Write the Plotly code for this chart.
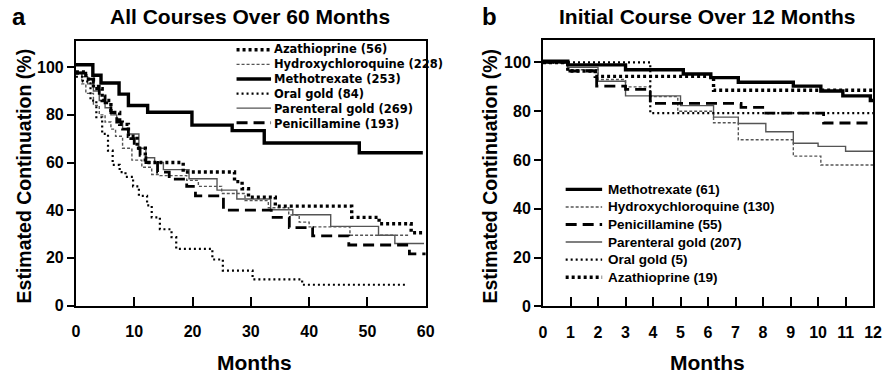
import plotly.graph_objects as go

W, H = 889, 376
FONT = "Liberation Sans, Arial, sans-serif"

# ---------------- Panel a: All courses over 60 months ----------------
a_names = ["Azathioprine", "Hydroxychloroquine", "Methotrexate", "Oral gold",
           "Parenteral gold", "Penicillamine"]
a_counts = [56, 228, 253, 84, 269, 193]

a_aza_t = [0, 1.7, 3, 4.5, 6, 7.5, 9, 10.5, 11.9, 18.4, 27.2, 28.5, 29.6, 34.2, 47.3, 52, 57.5, 59.5]
a_aza_v = [98, 95, 91, 86, 81, 76, 71, 66, 60, 56, 52, 49, 45.5, 41.7, 37, 34.3, 30.5, 30.5]
a_hcq_t = [0, 1, 1.7, 3, 4, 5, 6, 6.8, 8, 9.6, 11.3, 13, 14.4, 19, 21, 25, 29, 33, 36.5, 38.3, 40, 47, 57]
a_hcq_v = [97, 93, 89, 84, 80, 77, 74, 71, 66, 61, 58, 55, 54.5, 52.5, 50, 47, 44, 41, 38, 35, 33, 29.5, 29.5]
a_mtx_t = [0, 2.9, 4.3, 7.4, 9.0, 12.3, 19.9, 26.8, 32.3, 48.6, 59.5]
a_mtx_v = [101, 96.6, 93.4, 88.7, 83.9, 81.1, 75.7, 73.4, 68.2, 64.1, 64.1]
a_oral_t = [0, 1.2, 2.5, 3.5, 4.5, 5.5, 6.3, 7.5, 8.5, 9.8, 10.8, 12.2, 13, 14.4, 16.4, 17.2, 23.4, 25.2, 30.3, 38.8, 56.5]
a_oral_v = [96, 94, 86, 79, 72, 65, 59, 56, 54, 50, 46, 42, 37, 32, 28.7, 23.8, 19.3, 14.6, 11, 8.7, 8.7]
a_par_t = [0, 1, 2, 3, 4, 5, 6, 7, 8, 9, 10.8, 12, 13.5, 15, 19.4, 24.2, 27.6, 33.4, 37.2, 43.7, 51.9, 54.7, 59.7]
a_par_v = [98, 96, 93, 90, 86, 83, 80, 77, 74, 72, 66, 62, 60, 57, 53.2, 48.4, 44.7, 40.2, 38.1, 33.2, 29.5, 26, 26]
a_pen_t = [0, 1.7, 3, 4, 5, 6, 7, 8, 9, 10, 11, 12, 14, 16, 19, 20.5, 25.3, 33.5, 36.6, 40.6, 46.8, 57.2, 60]
a_pen_v = [97.5, 95, 92, 88, 85, 81, 77, 74, 70, 66, 63, 60, 56, 53, 50, 46, 40, 37, 32.7, 29.2, 25.4, 21.7, 21.7]

# ---------------- Panel b: Initial course over 12 months ----------------
b_names = ["Methotrexate", "Hydroxychloroquine", "Penicillamine", "Parenteral gold",
           "Oral gold", "Azathioprine"]
b_counts = [61, 130, 55, 207, 5, 19]

b_mtx_t = [0, 0.9, 3, 5.1, 6.1, 7.1, 9.1, 10.1, 10.9, 11.9, 12]
b_mtx_v = [100.5, 99, 97, 95.3, 93.8, 91.9, 90.3, 88.3, 86.3, 84.4, 84.4]
b_hcq_t = [0, 0.9, 2, 3, 3.9, 4.9, 6.2, 7.1, 9.1, 10.1, 12]
b_hcq_v = [100, 97, 93, 90, 86, 80, 75.3, 68.3, 61.6, 58, 58]
b_pen_t = [0, 0.9, 1.95, 3, 3.9, 7.2, 8.1, 10.2, 12]
b_pen_v = [100, 96.5, 90.3, 89, 83.2, 81.6, 79.2, 75.2, 75.2]
b_par_t = [0, 0.9, 2, 3, 5, 6.2, 7.1, 8.1, 9.1, 10, 11, 12]
b_par_v = [100, 98, 92.3, 86.3, 82.3, 77.6, 75, 71.6, 66.9, 65.6, 63.6, 63.6]
b_oral_t = [0, 3.9, 12]
b_oral_v = [100, 79.2, 79.2]
b_aza_t = [0, 0.9, 1.9, 6.2, 12]
b_aza_v = [100, 96.5, 94.3, 88.6, 88.6]

a_ticks_x = [0, 10, 20, 30, 40, 50, 60]
b_ticks_x = list(range(0, 13))
y_ticks = [0, 20, 40, 60, 80, 100]

# line styles per drug
STYLE = {
    "Azathioprine": dict(color="black", width=3.4, dash="3px,3px"),
    "Hydroxychloroquine": dict(color="#555555", width=1.4, dash="3px,2px"),
    "Methotrexate": dict(color="black", width=3.4, dash="solid"),
    "Oral gold": dict(color="black", width=2.2, dash="2px,3px"),
    "Parenteral gold": dict(color="#555555", width=1.4, dash="solid"),
    "Penicillamine": dict(color="black", width=2.8, dash="11px,6px"),
}

fig = go.Figure()

a_series = {
    "Azathioprine": (a_aza_t, a_aza_v),
    "Hydroxychloroquine": (a_hcq_t, a_hcq_v),
    "Methotrexate": (a_mtx_t, a_mtx_v),
    "Oral gold": (a_oral_t, a_oral_v),
    "Parenteral gold": (a_par_t, a_par_v),
    "Penicillamine": (a_pen_t, a_pen_v),
}
b_series = {
    "Methotrexate": (b_mtx_t, b_mtx_v),
    "Hydroxychloroquine": (b_hcq_t, b_hcq_v),
    "Penicillamine": (b_pen_t, b_pen_v),
    "Parenteral gold": (b_par_t, b_par_v),
    "Oral gold": (b_oral_t, b_oral_v),
    "Azathioprine": (b_aza_t, b_aza_v),
}

# draw thinner lines first so thick lines sit on top
order = ["Parenteral gold", "Hydroxychloroquine", "Oral gold", "Penicillamine", "Azathioprine", "Methotrexate"]
for nm in order:
    t, v = a_series[nm]
    fig.add_trace(go.Scatter(x=t, y=v, mode="lines", line_shape="hv", line=STYLE[nm],
                             name=nm, showlegend=False, xaxis="x", yaxis="y",
                             hoverinfo="skip"))
for nm in order:
    t, v = b_series[nm]
    fig.add_trace(go.Scatter(x=t, y=v, mode="lines", line_shape="hv", line=STYLE[nm],
                             name=nm, showlegend=False, xaxis="x2", yaxis="y2",
                             hoverinfo="skip"))

def px(x):
    return x / W

def py(y):
    return 1 - y / H

tickfont = dict(family=FONT, size=16, color="black", weight="bold")
axis_common = dict(showline=True, linewidth=2, linecolor="black", mirror=True,
                   showgrid=False, zeroline=False, tickfont=tickfont,
                   tickcolor="black", tickwidth=2)

fig.update_layout(
    width=W, height=H, margin=dict(l=0, r=0, t=0, b=0),
    paper_bgcolor="white", plot_bgcolor="white",
    xaxis=dict(domain=[px(73), px(428)], range=[0, 60], tickvals=a_ticks_x,
               ticks="inside", ticklen=9, ticklabelstandoff=10, anchor="y", **axis_common),
    yaxis=dict(domain=[py(313), py(42)], range=[0, 111], tickvals=y_ticks,
               ticks="outside", ticklen=7, anchor="x", **axis_common),
    xaxis2=dict(domain=[px(547), px(882)], range=[0, 12], tickvals=b_ticks_x,
                ticks="inside", ticklen=9, ticklabelstandoff=10, anchor="y2", **axis_common),
    yaxis2=dict(domain=[py(314), py(41)], range=[0, 109.2], tickvals=y_ticks,
                ticks="outside", ticklen=7, anchor="x2", **axis_common),
    showlegend=False,
)

ann = []
shapes = []

def text(x, y, s, size, xanchor="center", angle=0, family=FONT, align="center"):
    ann.append(dict(x=px(x), y=py(y), xref="paper", yref="paper", text=s,
                    showarrow=False, xanchor=xanchor, yanchor="middle",
                    textangle=angle, align=align,
                    font=dict(family=family, size=size, color="black", weight="bold")))

# panel letters and titles
text(15, 17, "a", 24)
text(250, 17, "All Courses Over 60 Months", 21)
text(493, 17, "b", 24)
text(713, 17, "Initial Course Over 12 Months", 21)
# axis titles
text(20, 180, "Estimated Continuation (%)", 19.5, angle=-90)
text(493, 180, "Estimated Continuation (%)", 19.5, angle=-90)
text(254, 371, "Months", 21)
text(714, 371, "Months", 21)

def sample(nm, x0, x1, y):
    st = STYLE[nm]
    shapes.append(dict(type="line", xref="paper", yref="paper",
                       x0=px(x0), x1=px(x1), y0=py(y), y1=py(y),
                       line=dict(color=st["color"], width=st["width"], dash=st["dash"])))

# legend of panel a: tightly packed rows -> one multi-line text block
a_size = 11.5
a_dy = a_size * 1.3
a_y0 = 51
for i, nm in enumerate(a_names):
    sample(nm, 236, 271, a_y0 + i * a_dy)
a_label = "<br>".join(f"{nm} ({c})" for nm, c in zip(a_names, a_counts))
text(272, a_y0 + (len(a_names) - 1) * a_dy / 2, a_label, a_size, xanchor="left",
     family="DejaVu Sans, Liberation Sans, sans-serif", align="left")

# legend of panel b
for i, (nm, c) in enumerate(zip(b_names, b_counts)):
    y = 194 + i * 18
    sample(nm, 570, 607, y)
    text(611, y, f"{nm} ({c})", 13.5, xanchor="left")

fig.update_layout(annotations=ann, shapes=shapes)
fig.write_html("out.html")
